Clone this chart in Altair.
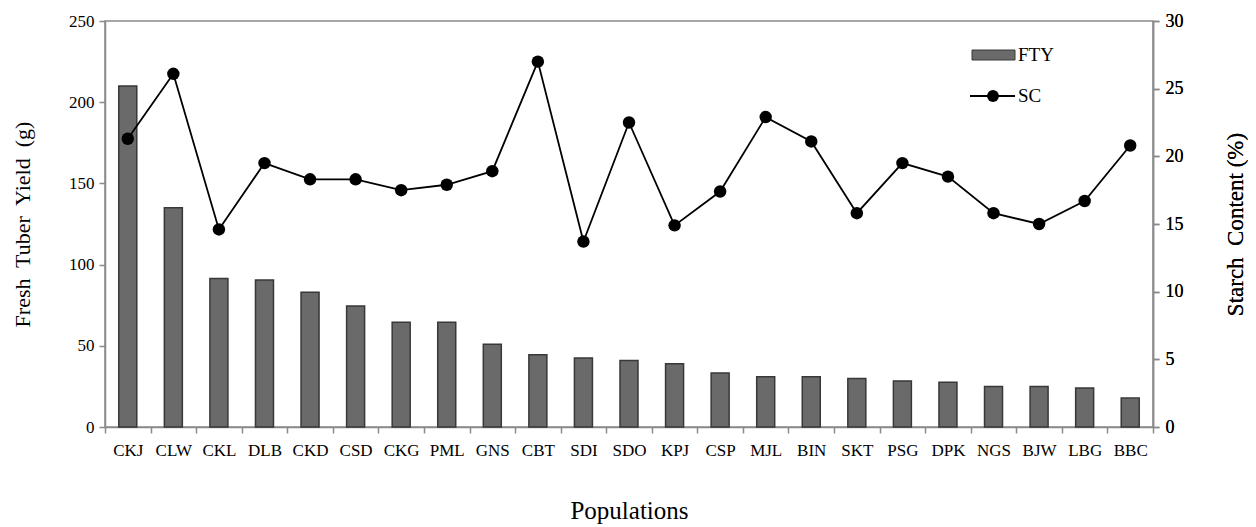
import altair as alt
import pandas as pd

populations = ["CKJ", "CLW", "CKL", "DLB", "CKD", "CSD", "CKG", "PML", "GNS", "CBT",
               "SDI", "SDO", "KPJ", "CSP", "MJL", "BIN", "SKT", "PSG", "DPK", "NGS",
               "BJW", "LBG", "BBC"]
fty = [210, 135, 91.5, 90.5, 83, 74.5, 64.5, 64.5, 51, 44.5,
       42.5, 41, 39, 33.2, 31, 31, 29.8, 28.4, 27.5, 25,
       25, 24, 17.8]
sc = [21.3, 26.1, 14.6, 19.5, 18.3, 18.3, 17.5, 17.9, 18.9, 27.0,
      13.7, 22.5, 14.9, 17.4, 22.9, 21.1, 15.8, 19.5, 18.5, 15.8,
      15.0, 16.7, 20.8]

legend_labels = ["FTY", "SC"]

df = pd.DataFrame({"pop": populations, "FTY": fty, "SC": sc})
FONT = "Liberation Serif"
AX = "#8a8a8a"
BAR_FILL = "#6a6a6a"
BAR_STROKE = "#383838"
NB = "\u00a0"

xenc = alt.X(
    "pop:N", sort=populations,
    scale=alt.Scale(paddingInner=0, paddingOuter=0),
    axis=alt.Axis(title="Populations", labelAngle=0, tickBand="extent",
                  labelFontSize=17, titleFontSize=25, labelPadding=9,
                  titlePadding=40, tickSize=6),
)

base = alt.Chart(df)

bars = base.mark_bar(size=18, fill=BAR_FILL, stroke=BAR_STROKE, strokeWidth=1.5).encode(
    x=xenc,
    y=alt.Y("FTY:Q", scale=alt.Scale(domain=[0, 250]),
            axis=alt.Axis(title=f"Fresh{NB} Tuber{NB} Yield{NB} (g)",
                          values=[0, 50, 100, 150, 200, 250],
                          labelFontSize=17, titleFontSize=22, titlePadding=34,
                          tickSize=6, labelPadding=5)),
)

sc_y = alt.Y("SC:Q", scale=alt.Scale(domain=[0, 30]),
             axis=alt.Axis(title=f"Starch{NB} Content (%)", orient="right",
                           values=[0, 5, 10, 15, 20, 25, 30],
                           labelFontSize=18, titleFontSize=23, titleAngle=270,
                           titlePadding=64, tickSize=6, labelPadding=6))

line = base.mark_line(color="black", strokeWidth=1.8).encode(x=xenc, y=sc_y)
pts = base.mark_point(filled=True, color="black", size=155, opacity=1).encode(x=xenc, y=sc_y)

leg_bar = alt.Chart(pd.DataFrame({"k": [legend_labels[0]]})).mark_rect(
    fill=BAR_FILL, stroke=BAR_STROKE, strokeWidth=1).encode(
    x=alt.value(867), x2=alt.value(910), y=alt.value(29), y2=alt.value(39))
leg_line = alt.Chart(pd.DataFrame({"k": [legend_labels[1]]})).mark_rule(
    color="black", strokeWidth=1.8).encode(
    x=alt.value(865), x2=alt.value(910), y=alt.value(75))
leg_pt = alt.Chart(pd.DataFrame({"k": [legend_labels[1]]})).mark_point(
    filled=True, color="black", size=140, opacity=1).encode(
    x=alt.value(888), y=alt.value(75))
leg_txt = alt.Chart(pd.DataFrame({"k": legend_labels, "yy": [34, 75]})).mark_text(
    align="left", baseline="middle", font=FONT, fontSize=19, color="black").encode(
    x=alt.value(913), y=alt.Y("yy:Q", scale=None), text="k:N")

chart = alt.layer(bars, line, pts, leg_bar, leg_line, leg_pt, leg_txt).resolve_scale(
    y="independent"
).properties(
    width=1048, height=406,
    autosize=alt.AutoSizeParams(type="none"),
    padding={"left": 97, "top": 13, "right": 95, "bottom": 100},
).configure_axis(
    labelFont=FONT, titleFont=FONT, labelColor="black", titleColor="black",
    domainColor=AX, tickColor=AX, grid=False, titleFontWeight="normal",
    domainWidth=1.5, tickWidth=1.5,
).configure_view(stroke=AX, strokeWidth=1.5)

chart.save("out.html", embed_options={"renderer": "svg", "actions": False})
